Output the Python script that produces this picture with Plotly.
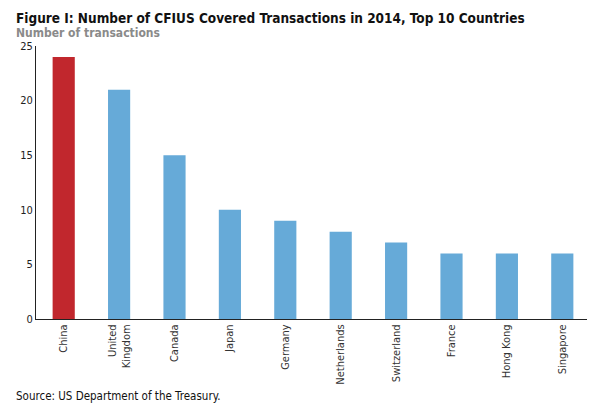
import plotly.graph_objects as go

countries = ["China", "United<br>Kingdom", "Canada", "Japan", "Germany",
             "Netherlands", "Switzerland", "France", "Hong Kong", "Singapore"]
transactions = [24, 21, 15, 10, 9, 8, 7, 6, 6, 6]
bar_colors = ["#C1272D"] + ["#66AAD8"] * 9

FONT = "Liberation Sans Narrow, DejaVu Sans Condensed, Arial Narrow, sans-serif"

fig = go.Figure()
fig.add_trace(go.Bar(
    x=countries,
    y=transactions,
    marker=dict(color=bar_colors, line=dict(width=0)),
    width=0.4,
))

fig.update_layout(
    width=595, height=410,
    paper_bgcolor="white", plot_bgcolor="white",
    margin=dict(l=22, r=13, t=38, b=99),
    font=dict(family=FONT, size=11, color="#222"),
    showlegend=False,
    xaxis=dict(
        showline=True, linecolor="#222", linewidth=1,
        tickangle=-90, ticks="", showgrid=False,
        tickfont=dict(size=11, color="#333"),
    ),
    yaxis=dict(
        range=[0, 25], tickvals=[0, 5, 10, 15, 20, 25],
        showline=True, linecolor="#222", linewidth=1,
        showgrid=False, zeroline=False, ticks="",
        tickfont=dict(size=11, color="#222"),
    ),
)

# header and footer text
fig.add_annotation(text="<b>Figure I: Number of CFIUS Covered Transactions in 2014, Top 10 Countries</b>",
                   xref="paper", yref="paper", x=0, xshift=-22, y=1.0, yshift=28,
                   xanchor="left", yanchor="middle", showarrow=False,
                   font=dict(size=13.5, color="#111", family=FONT))
fig.add_annotation(text="<b>Number of transactions</b>",
                   xref="paper", yref="paper", x=0, xshift=-22, y=1.0, yshift=13,
                   xanchor="left", yanchor="middle", showarrow=False,
                   font=dict(size=12, color="#8a8a8a", family=FONT))
fig.add_annotation(text="Source: US Department of the Treasury.",
                   xref="paper", yref="paper", x=0, xshift=-22, y=0, yshift=-77,
                   xanchor="left", yanchor="middle", showarrow=False,
                   font=dict(size=11.5, color="#111", family=FONT))

fig.write_html("out.html")
